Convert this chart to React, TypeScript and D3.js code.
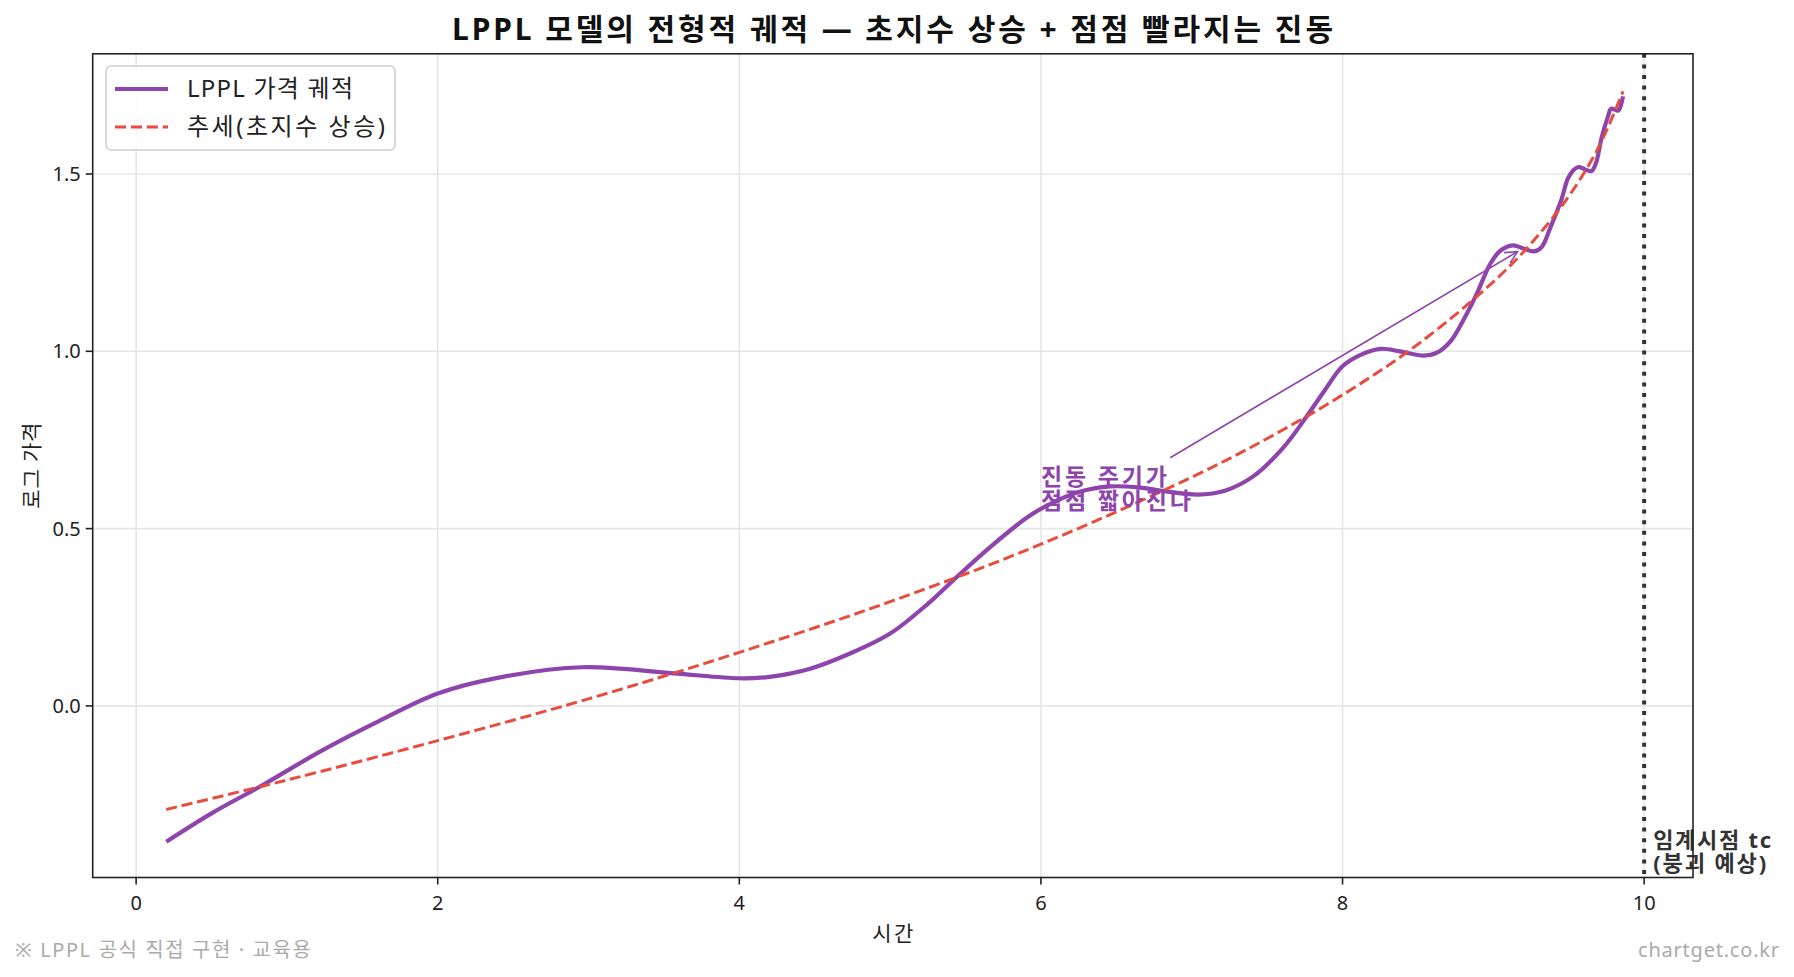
import React from 'react';
import * as d3 from 'd3';

const W = 1794;
const H = 977;
const FONT = "'Noto Sans', 'Noto Sans CJK KR', sans-serif";

// LPPL price trajectory (time, log price)
const LPPL_T = [0.2, 0.5, 0.84, 1.24, 1.6, 2.0, 2.43, 2.96, 3.56, 4.0, 4.2, 4.47, 4.73, 5.0, 5.25, 5.44, 5.65, 5.91, 6.04, 6.25, 6.46, 6.67, 6.83, 7.04, 7.22, 7.41, 7.61, 7.75, 7.88, 8.0, 8.12, 8.25, 8.38, 8.54, 8.63, 8.72, 8.8, 8.89, 8.98, 9.05, 9.13, 9.2, 9.27, 9.32, 9.38, 9.45, 9.5, 9.56, 9.61, 9.65, 9.68, 9.72, 9.76, 9.78, 9.81, 9.83, 9.86];
const LPPL_V = [-0.383, -0.303, -0.223, -0.124, -0.045, 0.035, 0.082, 0.109, 0.092, 0.078, 0.082, 0.105, 0.147, 0.204, 0.288, 0.363, 0.443, 0.532, 0.565, 0.603, 0.619, 0.615, 0.605, 0.596, 0.607, 0.648, 0.73, 0.809, 0.889, 0.958, 0.99, 1.007, 1.0, 0.988, 0.997, 1.03, 1.087, 1.162, 1.247, 1.285, 1.299, 1.29, 1.282, 1.294, 1.351, 1.426, 1.492, 1.519, 1.513, 1.508, 1.53, 1.606, 1.662, 1.684, 1.681, 1.679, 1.719];

// super-exponential trend
const TREND_T = [0.2, 1, 2, 3, 4, 5, 6, 7, 7.5, 8, 8.5, 9, 9.25, 9.5, 9.7, 9.86];
const TREND_V = [-0.292, -0.209, -0.098, 0.02, 0.151, 0.294, 0.456, 0.645, 0.754, 0.877, 1.02, 1.196, 1.304, 1.437, 1.577, 1.733];

const X_TICKS = [0, 2, 4, 6, 8, 10];
const X_TICK_LABELS = ['0', '2', '4', '6', '8', '10'];
const Y_TICKS = [0, 0.5, 1.0, 1.5];
const Y_TICK_LABELS = ['0.0', '0.5', '1.0', '1.5'];
const TC = 10;

const TITLE = 'LPPL 모델의 전형적 궤적 — 초지수 상승 + 점점 빨라지는 진동';
const X_LABEL = '시간';
const Y_LABEL = '로그 가격';
const LEGEND_LABELS = ['LPPL 가격 궤적', '추세(초지수 상승)'];
const ANNOT_LINES = ['진동 주기가', '점점 짧아진다'];
const ANNOT_TEXT_XY = [6.0, 0.6];
const ANNOT_ARROW_FROM = [6.857, 0.7];
const ANNOT_ARROW_TO = [9.16, 1.281];
const TC_LINES = ['임계시점 tc', '(붕괴 예상)'];
const FOOT_LEFT = '※ LPPL 공식 직접 구현 · 교육용';
const FOOT_RIGHT = 'chartget.co.kr';

const PURPLE = '#8e44ad';
const RED = '#e74c3c';

export default function App() {
  const left = 92.7, right = 1693, top = 53.8, bottom = 877.5;
  const x = d3.scaleLinear().domain([-0.288, 10.324]).range([left, right]);
  const y = d3.scaleLinear().domain([-0.4839, 1.839]).range([bottom, top]);

  const line = d3.line<[number, number]>()
    .x(d => x(d[0]))
    .y(d => y(d[1]))
    .curve(d3.curveCatmullRom.alpha(0.5));

  const lpplPath = line(LPPL_T.map((t, i) => [t, LPPL_V[i]] as [number, number])) || '';
  const trendPath = line(TREND_T.map((t, i) => [t, TREND_V[i]] as [number, number])) || '';

  // arrow
  const sx = x(ANNOT_ARROW_FROM[0]), sy = y(ANNOT_ARROW_FROM[1]);
  const px = x(ANNOT_ARROW_TO[0]), py = y(ANNOT_ARROW_TO[1]);
  const len = Math.hypot(px - sx, py - sy);
  const ux = (px - sx) / len, uy = (py - sy) / len;
  const nx = -uy, ny = ux;
  const hl = 12, hw = 6;
  const w1 = [px - hl * ux + hw * nx, py - hl * uy + hw * ny];
  const w2 = [px - hl * ux - hw * nx, py - hl * uy - hw * ny];

  const tx = x(ANNOT_TEXT_XY[0]);
  const tcx = x(TC) + 9;

  return (
    <svg width={W} height={H} style={{ position: 'absolute', left: 0, top: 0, background: '#fff' }} fontFamily={FONT}>
      <rect x={0} y={0} width={W} height={H} fill="#fff" />
      {/* grid */}
      <g stroke="#e6e6e6" strokeWidth={1.6}>
        {X_TICKS.map(t => <line key={'gx' + t} x1={x(t)} x2={x(t)} y1={top} y2={bottom} />)}
        {Y_TICKS.map(v => <line key={'gy' + v} x1={left} x2={right} y1={y(v)} y2={y(v)} />)}
      </g>
      <defs>
        <clipPath id="plotclip"><rect x={left} y={top} width={right - left} height={bottom - top} /></clipPath>
      </defs>
      <g clipPath="url(#plotclip)">
        <path d={lpplPath} fill="none" stroke={PURPLE} strokeWidth={4.2} strokeLinejoin="round" />
        <path d={trendPath} fill="none" stroke={RED} strokeWidth={3} strokeDasharray="11.1,4.8" />
        <line x1={x(TC)} x2={x(TC)} y1={top} y2={bottom} stroke="#333" strokeWidth={4} strokeDasharray="4,6.6" />
      </g>
      {/* annotation */}
      <line x1={sx} y1={sy} x2={px} y2={py} stroke={PURPLE} strokeWidth={1.6} />
      <polyline points={`${w1[0]},${w1[1]} ${px},${py} ${w2[0]},${w2[1]}`} fill="none" stroke={PURPLE} strokeWidth={1.6} />
      <text fill={PURPLE} fontSize={23} fontWeight="bold">
        <tspan x={tx} y={485} textLength={126} lengthAdjust="spacing">{ANNOT_LINES[0]}</tspan>
        <tspan x={tx} y={509} textLength={150} lengthAdjust="spacing">{ANNOT_LINES[1]}</tspan>
      </text>
      <text fill="#333" fontSize={22} fontWeight="bold">
        <tspan x={tcx} y={848} textLength={118} lengthAdjust="spacing">{TC_LINES[0]}</tspan>
        <tspan x={tcx} y={871} textLength={113} lengthAdjust="spacing">{TC_LINES[1]}</tspan>
      </text>
      {/* spines */}
      <rect x={left} y={top} width={right - left} height={bottom - top} fill="none" stroke="#222" strokeWidth={1.6} />
      {/* ticks */}
      <g stroke="#222" strokeWidth={1.6}>
        {X_TICKS.map(t => <line key={'tx' + t} x1={x(t)} x2={x(t)} y1={bottom} y2={bottom + 7} />)}
        {Y_TICKS.map(v => <line key={'ty' + v} x1={left} x2={left - 7} y1={y(v)} y2={y(v)} />)}
      </g>
      <g fontSize={20} fill="#222">
        {X_TICKS.map((t, i) => <text key={'lx' + t} x={x(t)} y={910} textAnchor="middle">{X_TICK_LABELS[i]}</text>)}
        {Y_TICKS.map((v, i) => <text key={'ly' + v} x={left - 12} y={y(v)} dy="0.35em" textAnchor="end">{Y_TICK_LABELS[i]}</text>)}
      </g>
      <text x={(left + right) / 2 - 20.5} y={941} fontSize={21} fill="#222" textLength={41} lengthAdjust="spacing">{X_LABEL}</text>
      <text transform={`translate(39,${(top + bottom) / 2}) rotate(-90)`} x={-43} fontSize={21} fill="#222" textLength={86} lengthAdjust="spacing">{Y_LABEL}</text>
      <text x={452} y={40} fontSize={30} fontWeight="bold" fill="#111" textLength={881} lengthAdjust="spacing">{TITLE}</text>
      {/* legend */}
      <rect x={106} y={66} width={289} height={84} rx={5} fill="#fff" fillOpacity={0.85} stroke="#d0d0d0" strokeWidth={1.6} />
      <line x1={115} x2={168} y1={89} y2={89} stroke={PURPLE} strokeWidth={4.2} />
      <line x1={115} x2={168} y1={127} y2={127} stroke={RED} strokeWidth={3} strokeDasharray="11.1,4.8" />
      <text x={187} y={97} fontSize={24} fill="#222" textLength={166} lengthAdjust="spacing">{LEGEND_LABELS[0]}</text>
      <text x={187} y={135} fontSize={24} fill="#222" textLength={198} lengthAdjust="spacing">{LEGEND_LABELS[1]}</text>
      {/* footer */}
      <text x={15} y={957} fontSize={20} fill="#aaa" textLength={296} lengthAdjust="spacing">{FOOT_LEFT}</text>
      <text x={1638} y={957} fontSize={20} fill="#aaa" textLength={141} lengthAdjust="spacing">{FOOT_RIGHT}</text>
    </svg>
  );
}
